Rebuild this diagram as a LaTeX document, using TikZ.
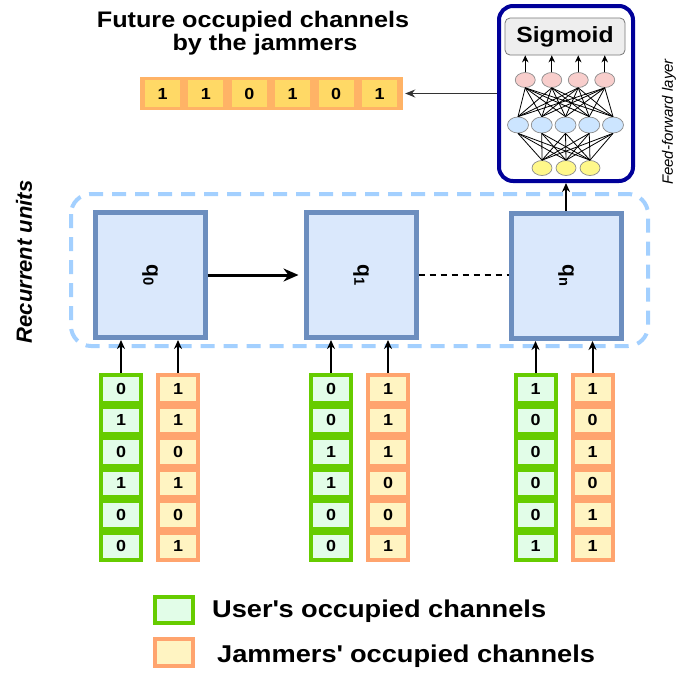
\documentclass[tikz,border=0pt]{standalone}
\usepackage{fontspec}
\setmainfont{Liberation Sans}[FakeStretch=1.12]
\newfontfamily\rotsf{Liberation Sans}
\usetikzlibrary{arrows.meta,shapes.geometric}

\definecolor{unitfill}{HTML}{DAE8FC}
\definecolor{unitedge}{HTML}{6C8EBF}
\definecolor{groupedge}{HTML}{A3D0FF}
\definecolor{useredge}{HTML}{66CC00}
\definecolor{userfill}{HTML}{E2FDE8}
\definecolor{jamedge}{HTML}{FFA46E}
\definecolor{jamfill}{HTML}{FFF4C2}
\definecolor{vecedge}{HTML}{FFB366}
\definecolor{vecfill}{HTML}{FFD966}
\definecolor{nnedge}{HTML}{000099}
\definecolor{sigfill}{HTML}{EEEEEE}
\definecolor{sigedge}{HTML}{777777}
\definecolor{outfill}{HTML}{F8CECC}
\definecolor{hidfill}{HTML}{CCE5FF}
\definecolor{infill}{HTML}{FFF88A}
\definecolor{neuronedge}{HTML}{8C8C8C}
\definecolor{outarrowcol}{HTML}{333333}

\begin{document}
\begin{tikzpicture}[x=1pt,y=-1pt,
  unit/.style={draw=unitedge,fill=unitfill,line width=5pt,minimum width=110pt,minimum height=125pt,inner sep=0pt},
  qlabel/.style={rotate=-90,inner sep=0pt,font=\rotsf\fontsize{21}{21}\selectfont\bfseries},
  cell/.style={line width=4pt,minimum width=40pt,minimum height=27.5pt,inner sep=0pt,font=\fontsize{16}{16}\selectfont\bfseries},
  usercell/.style={cell,draw=useredge,fill=userfill},
  jamcell/.style={cell,draw=jamedge,fill=jamfill},
  veccell/.style={fill=vecfill,minimum width=35pt,minimum height=27pt,inner sep=0pt,font=\fontsize{16}{16}\selectfont\bfseries},
  group/.style={draw=groupedge,line width=4pt,dash pattern=on 14pt off 9pt,rounded corners=20pt},
  nnbox/.style={draw=nnedge,fill=white,line width=4pt,rounded corners=14pt,minimum width=134pt,minimum height=175pt,inner sep=0pt},
  sigbox/.style={draw=sigedge,fill=sigfill,line width=0.8pt,rounded corners=5pt,minimum width=120pt,minimum height=37pt,inner sep=0pt,font=\fontsize{22}{22}\selectfont\bfseries},
  neuron/.style={ellipse,draw=neuronedge,line width=0.7pt,inner sep=0pt},
  outn/.style={neuron,fill=outfill,minimum width=20pt,minimum height=15pt},
  hidn/.style={neuron,fill=hidfill,minimum width=21pt,minimum height=16pt},
  inn/.style={neuron,fill=infill,minimum width=20pt,minimum height=15pt},
  nnline/.style={line width=0.8pt,black},
  nnarrow/.style={line width=1pt,-{Stealth[length=7pt,width=6.5pt]}},
  inarrow/.style={line width=2pt,-{Stealth[length=9pt,width=8pt]}},
  mainarrow/.style={line width=3pt,-{Stealth[length=15pt,width=13pt]},shorten >=5pt},
  outarrow/.style={line width=1.5pt,draw=outarrowcol,-{Stealth[length=10pt,width=8pt]},shorten >=2pt},
  titletext/.style={anchor=base,inner sep=0pt,font=\fontsize{22.5}{25}\selectfont\bfseries},
  keytext/.style={anchor=base west,inner sep=0pt,font=\fontsize{24.3}{26}\selectfont\bfseries},
]
\useasboundingbox (0,0) rectangle (699,675);

% title and predicted vector
\node[titletext] (title1) at (253,27) {Future occupied channels};
\node[titletext] (title2) at (265,50) {by the jammers};
\node[fill=vecedge,minimum width=263pt,minimum height=33pt,inner sep=0pt] (vec) at (271.5,93.5) {};
\foreach \v [count=\i] in {1,1,0,1,0,1}
  \node[veccell] (v\i) at ({119.1+43.4*\i},93.5) {\v};

% recurrent units
\draw[group] (71,194) rectangle (648,346);
\node[unit] (u0) at (150,275) {};
\node[unit] (u1) at (361,275) {};
\node[unit] (u2) at (566,276) {};
\node[qlabel] (q0) at (u0.center) {q\textsubscript{0}};
\node[qlabel] (q1) at (u1.center) {q\textsubscript{1}};
\node[qlabel] (qn) at (u2.center) {q\textsubscript{n}};
\draw[mainarrow] (u0.east) -- (u1.west);
\draw[line width=1.5pt,dash pattern=on 6pt off 5pt] (u1.east) -- (u1.east -| u2.west);
\node[rotate=90,inner sep=0pt,font=\rotsf\fontsize{22}{22}\selectfont\bfseries\itshape] (reclabel) at (24,262) {Recurrent units};

% input channel columns
\foreach \b/\gx/\jx/\gv/\jv in {0/121/178/{0,1,0,1,0,0}/{1,1,0,1,0,1},
                                1/331/388/{0,0,1,1,0,0}/{1,1,1,0,0,1},
                                2/535.5/592.5/{1,0,0,0,0,1}/{1,0,1,0,1,1}}{
  \foreach \v [count=\i] in \gv
    \node[usercell] (g\b-\i) at (\gx,{357.25+31.5*\i}) {\v};
  \foreach \v [count=\i] in \jv
    \node[jamcell] (j\b-\i) at (\jx,{357.25+31.5*\i}) {\v};
  \draw[inarrow] (g\b-1.north) -- (g\b-1.north |- u\b.south);
  \draw[inarrow] (j\b-1.north) -- (j\b-1.north |- u\b.south);
}

% feed-forward network
\node[nnbox] (nn) at (566,93.5) {};
\node[sigbox] (sig) at (565,36.5) {Sigmoid};
\foreach \x [count=\i] in {525.25,551.75,578.25,604.75}
  \node[outn] (o\i) at (\x,80) {};
\foreach \x [count=\i] in {518,541.75,565.5,589.25,613}
  \node[hidn] (h\i) at (\x,125) {};
\foreach \x [count=\i] in {542,566,590}
  \node[inn] (n\i) at (\x,168) {};
\foreach \i in {1,2,3}
  \foreach \j in {1,...,5}
    \draw[nnline] (n\i.north) -- (h\j.south);
\foreach \j in {1,...,5}
  \foreach \k in {1,...,4}
    \draw[nnline] (h\j.north) -- (o\k.south);
\foreach \k in {1,...,4}
  \draw[nnarrow] (o\k.north) -- (o\k.north |- sig.south);
\node[rotate=90,inner sep=0pt,font=\rotsf\fontsize{15}{15}\selectfont\itshape] (fflabel) at (669,122) {Feed-forward layer};

\draw[inarrow] (u2.north) -- (nn.south);
\draw[outarrow] (nn.west) -- (vec.east);

% legend
\node[usercell,minimum width=38pt,minimum height=26pt] (keyuser) at (174,610) {};
\node[jamcell,minimum width=38pt,minimum height=27pt] (keyjam) at (174,652.5) {};
\node[keytext] (keyusertext) at (212,617) {User\textquotesingle s occupied channels};
\node[keytext] (keyjamtext) at (217,662) {Jammers\textquotesingle\ occupied channels};
\end{tikzpicture}
\end{document}
